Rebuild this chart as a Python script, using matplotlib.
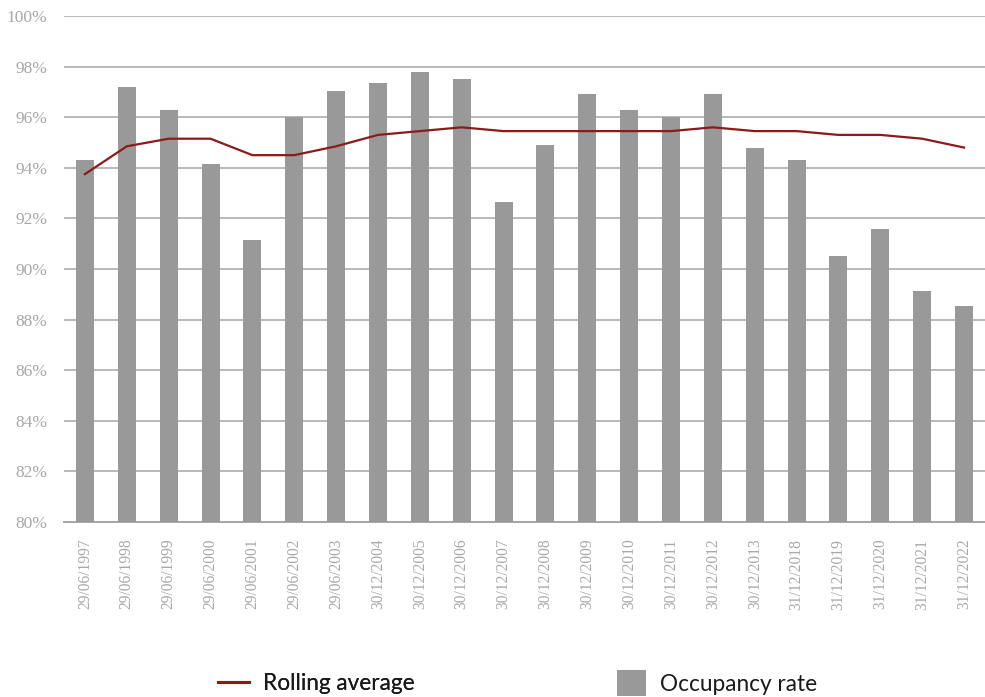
import matplotlib
matplotlib.use("Agg")
import matplotlib.pyplot as plt
from matplotlib.lines import Line2D
from matplotlib.patches import Patch
from matplotlib.ticker import FuncFormatter, MultipleLocator

dates = [
    "29/06/1997", "29/06/1998", "29/06/1999", "29/06/2000", "29/06/2001",
    "29/06/2002", "29/06/2003", "30/12/2004", "30/12/2005", "30/12/2006",
    "30/12/2007", "30/12/2008", "30/12/2009", "30/12/2010", "30/12/2011",
    "30/12/2012", "30/12/2013", "31/12/2018", "31/12/2019", "31/12/2020",
    "31/12/2021", "31/12/2022",
]
occupancy_rate = [
    94.3, 97.2, 96.3, 94.15, 91.15, 96.0, 97.05, 97.35, 97.8, 97.5,
    92.65, 94.9, 96.9, 96.3, 96.0, 96.9, 94.8, 94.3, 90.5, 91.6,
    89.15, 88.55,
]
rolling_average = [
    93.75, 94.85, 95.15, 95.15, 94.5, 94.5, 94.85, 95.3, 95.45, 95.6,
    95.45, 95.45, 95.45, 95.45, 95.45, 95.6, 95.45, 95.45, 95.3, 95.3,
    95.15, 94.8,
]

BAR_COLOR = "#999999"
LINE_COLOR = "#8b1a1a"
GRID_COLOR = "#a6a6a6"
TICK_COLOR = "#a8a8a8"
SERIF = "Liberation Serif"

fig = plt.figure(figsize=(9.85, 6.97), dpi=100)
ax = fig.add_axes([64 / 985, 1 - 522 / 697, 1 - 64 / 985, (522 - 16) / 697])

x = list(range(len(dates)))
ax.bar(x, [v - 80 for v in occupancy_rate], bottom=80, width=0.43,
       color=BAR_COLOR, zorder=3)
ax.plot(x, rolling_average, color=LINE_COLOR, linewidth=1.6, zorder=4)

ax.set_xlim(-0.5, len(dates) - 0.5)
ax.set_ylim(80, 100)
ax.yaxis.set_major_locator(MultipleLocator(2))
ax.yaxis.set_major_formatter(FuncFormatter(lambda v, _: f"{v:.0f}%"))
ax.grid(axis="y", color=GRID_COLOR, linewidth=1.1, zorder=0)
ax.set_axisbelow(True)

for side in ("top", "right", "left"):
    ax.spines[side].set_visible(False)
ax.spines["bottom"].set_color(GRID_COLOR)
ax.spines["bottom"].set_linewidth(1.4)

ax.set_xticks(x)
ax.set_xticklabels(dates, rotation=90, fontfamily=SERIF, fontsize=11.2,
                   color=TICK_COLOR)
ax.tick_params(axis="x", length=0, pad=12)
ax.tick_params(axis="y", length=0, pad=12, labelsize=12.5, labelcolor=TICK_COLOR)
for lbl in ax.get_yticklabels():
    lbl.set_fontfamily(SERIF)

legend_font = {"family": "Lato", "size": 16.3}
leg1 = fig.legend(
    handles=[Line2D([], [], color=LINE_COLOR, linewidth=2.2)],
    labels=["Rolling average"], loc="center left",
    bbox_to_anchor=(218 / 985, 1 - 683 / 697), frameon=False,
    prop=legend_font, handlelength=1.35, handletextpad=0.62,
    borderpad=0, borderaxespad=0, labelcolor="#1a1a1a",
)
leg2 = fig.legend(
    handles=[Patch(facecolor=BAR_COLOR, edgecolor="none")],
    labels=["Occupancy rate"], loc="center left",
    bbox_to_anchor=(617 / 985, 1 - 683 / 697), frameon=False,
    prop=legend_font, handlelength=1.3, handleheight=1.4, handletextpad=0.62,
    borderpad=0, borderaxespad=0, labelcolor="#1a1a1a",
)
fig.add_artist(leg1)

fig.savefig("out.png", dpi=100)
